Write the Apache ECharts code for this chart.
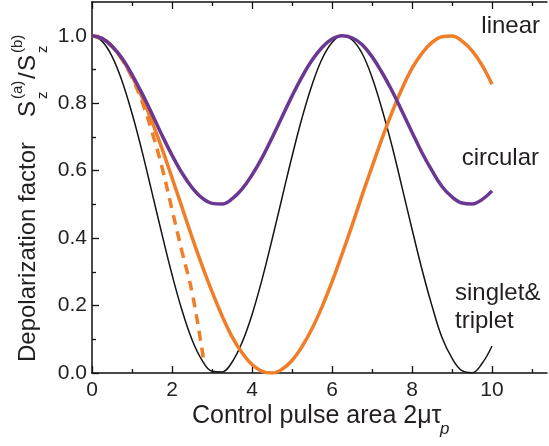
<!DOCTYPE html>
<html><head><meta charset="utf-8">
<script src="https://cdn.jsdelivr.net/npm/echarts@6/dist/echarts.min.js"></script>
<style>html,body{margin:0;padding:0;background:#fff}#c{width:549px;height:446px}</style>
</head><body><div id="c"></div>
<script>
// ---- data ----
const xs = [0,0.25,0.5,0.75,1,1.25,1.5,1.75,2,2.25,2.5,2.75,3,3.25,3.5,3.75,4,4.25,4.5,4.75,5,5.25,5.5,5.75,6,6.25,6.5,6.75,7,7.25,7.5,7.75,8,8.25,8.5,8.75,9,9.25,9.5,9.75,10];
const singletTriplet = [1.000,0.984,0.939,0.866,0.770,0.658,0.535,0.411,0.292,0.186,0.099,0.038,0.005,0.003,0.032,0.090,0.173,0.277,0.395,0.519,0.642,0.756,0.854,0.931,0.980,1.000,0.988,0.948,0.877,0.782,0.673,0.551,0.427,0.307,0.199,0.105,0.044,0.007,0.001,0.028,0.080];
const circular = [1.000,0.992,0.969,0.933,0.885,0.829,0.768,0.705,0.646,0.593,0.550,0.519,0.503,0.501,0.516,0.545,0.587,0.638,0.697,0.759,0.821,0.878,0.927,0.965,0.990,1.000,0.994,0.974,0.938,0.891,0.837,0.776,0.714,0.653,0.600,0.553,0.522,0.504,0.501,0.514,0.540];
const linear = [1.000,0.992,0.969,0.932,0.880,0.818,0.745,0.665,0.579,0.491,0.403,0.319,0.241,0.170,0.108,0.060,0.025,0.005,0.000,0.011,0.037,0.078,0.131,0.196,0.270,0.352,0.437,0.526,0.611,0.695,0.773,0.843,0.903,0.948,0.980,0.997,0.999,0.984,0.956,0.913,0.856];
const dashedX = [0,0.25,0.5,0.75,1,1.25,1.5,1.75,2,2.25,2.5,2.75,2.8];
const dashedLinear = [1.000,0.992,0.969,0.930,0.876,0.805,0.715,0.610,0.485,0.360,0.240,0.070,0.030];
const xMajorTicks = [0,2,4,6,8,10];
const xMinorTicks = [1,3,5,7,9,11];
const yMajorTicks = [0,0.2,0.4,0.6,0.8,1.0];
const yMinorTicks = [0.1,0.3,0.5,0.7,0.9];

const FONT = "'Liberation Sans', Arial, Helvetica, sans-serif";
const TXT = '#231f20';
const AX = '#111111';
const X_MIN = 0, X_MAX = 11.375, Y_MIN = 0, Y_MAX = 1.1;
function pairs(x, y) { return y.map((v, i) => [x[i], v]); }

function xAxisDef(pos, ticks, len, showLine, showLabels) {
  return {
    type: 'value', position: pos, min: X_MIN, max: X_MAX, interval: 1,
    axisLine: { show: showLine, onZero: false, lineStyle: { color: AX, width: 1.5 } },
    axisTick: { show: true, inside: true, length: len, customValues: ticks, lineStyle: { color: AX, width: 1.3 } },
    axisLabel: showLabels ? { show: true, customValues: ticks, fontSize: 21, fontFamily: FONT, color: TXT, margin: 7,
      formatter: v => String(Math.round(v)) } : { show: false },
    splitLine: { show: false }
  };
}
function yAxisDef(ticks, len, showLine, showLabels) {
  return {
    type: 'value', position: 'left', min: Y_MIN, max: Y_MAX, interval: 0.1,
    axisLine: { show: showLine, onZero: false, lineStyle: { color: AX, width: 1.5 } },
    axisTick: { show: true, inside: true, length: len, customValues: ticks, lineStyle: { color: AX, width: 1.3 } },
    axisLabel: showLabels ? { show: true, customValues: ticks, fontSize: 21, fontFamily: FONT, color: TXT, margin: 5,
      formatter: v => v.toFixed(1) } : { show: false },
    splitLine: { show: false }
  };
}

const chart = echarts.init(document.getElementById('c'), null, { renderer: 'canvas' });
const lineBase = { type: 'line', showSymbol: false, symbol: 'none', smooth: 0.4, xAxisIndex: 0, yAxisIndex: 0, z: 3 };
chart.setOption({
  animation: false,
  backgroundColor: '#ffffff',
  grid: { left: 92, right: 2, top: 2, bottom: 73, containLabel: false },
  xAxis: [
    xAxisDef('bottom', xMajorTicks, 7, true, true),
    xAxisDef('bottom', xMinorTicks, 4, false, false),
    xAxisDef('top', xMajorTicks, 7, true, false),
    xAxisDef('top', xMinorTicks, 4, false, false)
  ],
  yAxis: [
    yAxisDef(yMajorTicks, 7, true, true),
    yAxisDef(yMinorTicks, 4, false, false)
  ],
  series: [
    Object.assign({}, lineBase, { name: 'singlet&triplet', data: pairs(xs, singletTriplet), lineStyle: { color: '#141414', width: 1.5 } }),
    Object.assign({}, lineBase, { name: 'linear', data: pairs(xs, linear), lineStyle: { color: '#f07d27', width: 3.5 } }),
    Object.assign({}, lineBase, { name: 'linear dashed', data: pairs(dashedX, dashedLinear), lineStyle: { color: '#f07d27', width: 3.5, type: [10, 7] } }),
    Object.assign({}, lineBase, { name: 'circular', data: pairs(xs, circular), lineStyle: { color: '#6a3893', width: 3.5 } })
  ],
  graphic: [
    { type: 'text', x: 540, y: 26.6, style: { text: 'linear', font: '24px ' + FONT, fill: TXT, align: 'right', verticalAlign: 'middle' } },
    { type: 'text', x: 539, y: 158.6, style: { text: 'circular', font: '24px ' + FONT, fill: TXT, align: 'right', verticalAlign: 'middle' } },
    { type: 'text', x: 455, y: 293.6, style: { text: 'singlet&', font: '24px ' + FONT, fill: TXT, align: 'left', verticalAlign: 'middle' } },
    { type: 'text', x: 455, y: 321.6, style: { text: 'triplet', font: '24px ' + FONT, fill: TXT, align: 'left', verticalAlign: 'middle' } },
    // x axis name
    { type: 'text', x: 192, y: 416.3, style: { text: 'Control pulse area 2\u03bc\u03c4', font: '25px ' + FONT, fill: TXT, align: 'left', verticalAlign: 'middle' } },
    { type: 'text', x: 440, y: 429, style: { text: 'p', font: 'italic 17px ' + FONT, fill: TXT, align: 'left', verticalAlign: 'middle' } },
    // y axis name (rotated)
    { type: 'group', x: 28, y: 362, rotation: Math.PI / 2, children: [
      { type: 'text', x: 0, y: 0, style: { text: 'Depolarization factor', font: '24px ' + FONT, fill: TXT, align: 'left', verticalAlign: 'middle' } },
      { type: 'text', x: 245, y: 0, style: { text: 'S', font: '24px ' + FONT, fill: TXT, align: 'left', verticalAlign: 'middle' } },
      { type: 'text', x: 263, y: -10, style: { text: '(a)', font: '15px ' + FONT, fill: TXT, align: 'left', verticalAlign: 'middle' } },
      { type: 'text', x: 263, y: 15, style: { text: 'z', font: '15px ' + FONT, fill: TXT, align: 'left', verticalAlign: 'middle' } },
      { type: 'text', x: 283, y: 0, style: { text: '/', font: '24px ' + FONT, fill: TXT, align: 'left', verticalAlign: 'middle' } },
      { type: 'text', x: 291, y: 0, style: { text: 'S', font: '24px ' + FONT, fill: TXT, align: 'left', verticalAlign: 'middle' } },
      { type: 'text', x: 309, y: -10, style: { text: '(b)', font: '15px ' + FONT, fill: TXT, align: 'left', verticalAlign: 'middle' } },
      { type: 'text', x: 309, y: 15, style: { text: 'z', font: '15px ' + FONT, fill: TXT, align: 'left', verticalAlign: 'middle' } }
    ]}
  ]
});
</script></body></html>
